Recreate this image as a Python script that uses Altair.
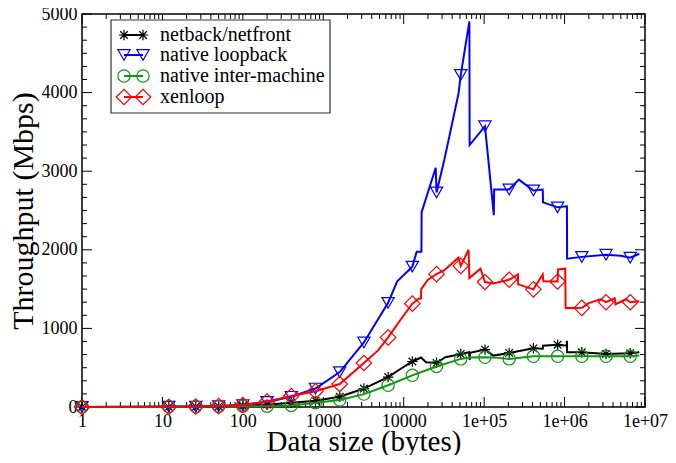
import altair as alt
import pandas as pd

FONT = "Liberation Serif"

series = ["netback/netfront", "native loopback", "native inter-machine", "xenloop"]
colors = ["#000000", "#0000ff", "#119611", "#ff0000"]
shapes = ["M-1,0L1,0M0,-1L0,1M-0.72,-0.72L0.72,0.72M-0.72,0.72L0.72,-0.72",
          "triangle-down", "circle", "diamond"]
sizes = [110, 150, 150, 240]

# x positions (bytes) where markers are drawn
marker_x = [1, 12, 26, 50, 100, 200, 400, 800, 1600, 3200, 6400, 12800, 25600,
            51200, 102400, 204800, 409600, 819200, 1638400, 3276800, 6553600]

# netback/netfront
black_x = [1, 12, 26, 50, 100, 200, 400, 800, 1600, 3200,
           6400, 9000, 12800, 16400, 19000, 25600, 33000, 42000, 51200, 65000,
           66000, 67000, 102400, 130000, 204800, 409600, 535000, 540000, 819200, 1060000,
           1070000, 1075000, 1638400, 3276800, 6553600, 8500000]
black_y = [0, 2, 4, 8, 15, 30, 55, 80, 130, 235,
           381, 480, 579, 630, 570, 562, 633, 654, 675, 696,
           600, 690, 730, 654, 688, 746, 742, 780, 792, 780,
           843, 696, 696, 675, 683, 696]

# native loopback
blue_x = [1, 12, 26, 50, 100, 200, 400, 800, 1600, 3200,
          6400, 8300, 12800, 14500, 16600, 16700, 25000, 25600, 32000, 48000,
          51200, 65536, 66000, 102400, 132000, 133000, 204800, 270000, 409600, 535000,
          540000, 819200, 1070000, 1075000, 1638400, 3276800, 5000000, 6553600, 8500000]
blue_y = [0, 3, 6, 12, 25, 65, 130, 235, 444, 821,
          1325, 1600, 1786, 1975, 1975, 2478, 3044, 2730, 3145, 3987,
          4226, 4906, 3333, 3572, 2440, 2767, 2767, 2893, 2755, 2767,
          2604, 2540, 2553, 1887, 1910, 1937, 1925, 1900, 1950]

# native inter-machine
green_x = [1, 12, 26, 50, 100, 200, 400, 800, 1600, 3200, 6400, 12800, 25600,
           51200, 65000, 102400, 150000, 204800, 409600, 819200, 1638400, 3276800,
           6553600, 8500000]
green_y = [0, 2, 3, 5, 10, 10, 20, 55, 88, 164, 277, 403, 516,
           612, 630, 633, 625, 612, 645, 645, 645, 645,
           645, 655]

# xenloop
red_x = [1, 12, 26, 50, 100, 200, 400, 800, 1600, 3200,
         4800, 6400, 9000, 12800, 15500, 16400, 16500, 20000, 25600, 32000,
         48000, 51200, 64000, 65536, 90000, 102400, 130000, 204800, 263000, 265000,
         409600, 535000, 545000, 819200, 830000, 1020000, 1030000, 1638400, 2000000, 2800000,
         3276800, 4200000, 4300000, 5800000, 6553600, 8500000]
red_y = [0, 3, 6, 12, 25, 70, 140, 200, 292, 560,
         720, 885, 1100, 1315, 1380, 1380, 1500, 1620, 1690, 1740,
         1900, 1795, 2000, 1640, 1760, 1590, 1572, 1619, 1686, 1560,
         1497, 1686, 1600, 1597, 1750, 1760, 1258, 1262, 1321, 1371,
         1333, 1384, 1308, 1371, 1333, 1346]

series_x = [black_x, blue_x, green_x, red_x]
series_y = [black_y, blue_y, green_y, red_y]

x_major = [1, 10, 100, 1000, 10000, 100000, 1000000, 10000000]
x_tick_labels = ["1", "10", "100", "1000", "10000", "1e+05", "1e+06", "1e+07"]
x_minor = [k * 10 ** d for d in range(7) for k in range(2, 10)]
y_major = [0, 1000, 2000, 3000, 4000, 5000]
y_minor = [i * 1000 / 6 for i in range(30) if i % 6 != 0]

W, H = 563, 393
MAJ, MIN = 10, 5

xscale = alt.Scale(type="log", domain=[1, 1e7], nice=False)
yscale = alt.Scale(domain=[0, 5000], nice=False)

label_expr = "[" + ",".join("'%s'" % s for s in x_tick_labels) + "][round(log(datum.value)/LN10)]"

xaxis = alt.Axis(values=x_major, labelExpr=label_expr, ticks=False, domain=False, grid=False,
                 labelFont=FONT, labelFontSize=18, labelColor="black", labelPadding=5,
                 labelFlush=False, labelOverlap=False,
                 title="Data size (bytes)", titleFont=FONT, titleFontSize=29,
                 titleFontWeight="normal", titleColor="black", titlePadding=-3)
yaxis = alt.Axis(values=y_major, format="d", ticks=False, domain=False, grid=False,
                 labelFont=FONT, labelFontSize=18, labelColor="black", labelPadding=5,
                 labelFlush=False, labelOverlap=False,
                 title="Throughput (Mbps)", titleFont=FONT, titleFontSize=30,
                 titleFontWeight="normal", titleColor="black", titlePadding=3)

layers = []

# x ticks (bottom and top, inward)
for vals, ln in [(x_major, MAJ), (x_minor, MIN)]:
    d = pd.DataFrame({"v": vals})
    layers.append(alt.Chart(d).mark_rule(color="black", strokeWidth=1).encode(
        x=alt.X("v:Q", scale=xscale, axis=xaxis), y=alt.value(H), y2=alt.value(H - ln)))
    layers.append(alt.Chart(d).mark_rule(color="black", strokeWidth=1).encode(
        x=alt.X("v:Q", scale=xscale, axis=xaxis), y=alt.value(0), y2=alt.value(ln)))
# y ticks (left and right, inward)
for vals, ln in [(y_major, MAJ), (y_minor, MIN)]:
    d = pd.DataFrame({"v": vals})
    layers.append(alt.Chart(d).mark_rule(color="black", strokeWidth=1).encode(
        y=alt.Y("v:Q", scale=yscale, axis=yaxis), x=alt.value(0), x2=alt.value(ln)))
    layers.append(alt.Chart(d).mark_rule(color="black", strokeWidth=1).encode(
        y=alt.Y("v:Q", scale=yscale, axis=yaxis), x=alt.value(W), x2=alt.value(W - ln)))

# series
for name, xs, ys, c, sh, sz in zip(series, series_x, series_y, colors, shapes, sizes):
    df = pd.DataFrame({"x": xs, "y": ys, "i": list(range(len(xs)))})
    layers.append(alt.Chart(df).mark_line(color=c, strokeWidth=2).encode(
        x=alt.X("x:Q", scale=xscale, axis=xaxis),
        y=alt.Y("y:Q", scale=yscale, axis=yaxis),
        order="i:Q"))
    mdf = df[df["x"].isin(marker_x)]
    layers.append(alt.Chart(mdf).mark_point(shape=sh, size=sz, color=c, filled=False,
                                            strokeWidth=1.2, opacity=1).encode(
        x=alt.X("x:Q", scale=xscale, axis=xaxis),
        y=alt.Y("y:Q", scale=yscale, axis=yaxis)))

# legend
one = pd.DataFrame({"a": [0]})
layers.append(alt.Chart(one).mark_rect(fill="white", stroke="#333333", strokeWidth=1.2).encode(
    x=alt.value(29), x2=alt.value(248), y=alt.value(6), y2=alt.value(99)))
legend_rows = [21, 41, 62, 83]
for name, c, sh, sz, ry in zip(series, colors, shapes, sizes, legend_rows):
    ld = pd.DataFrame({"label": [name]})
    layers.append(alt.Chart(ld).mark_rule(color=c, strokeWidth=2).encode(
        x=alt.value(42), x2=alt.value(61), y=alt.value(ry)))
    for px in (42, 61):
        layers.append(alt.Chart(ld).mark_point(shape=sh, size=sz, color=c, filled=False,
                                               strokeWidth=1.2, opacity=1).encode(
            x=alt.value(px), y=alt.value(ry)))
    layers.append(alt.Chart(ld).mark_text(align="left", baseline="middle", font=FONT,
                                          fontSize=20, color="black").encode(
        x=alt.value(78), y=alt.value(ry), text="label:N"))

chart = alt.layer(*layers).properties(
    width=W, height=H,
    padding={"left": 74, "top": 6, "right": 23, "bottom": 48},
    autosize="none",
    background="white",
).configure_view(stroke="black", strokeWidth=1.5)

chart.save("out.html", embed_options={"renderer": "svg", "actions": False})
